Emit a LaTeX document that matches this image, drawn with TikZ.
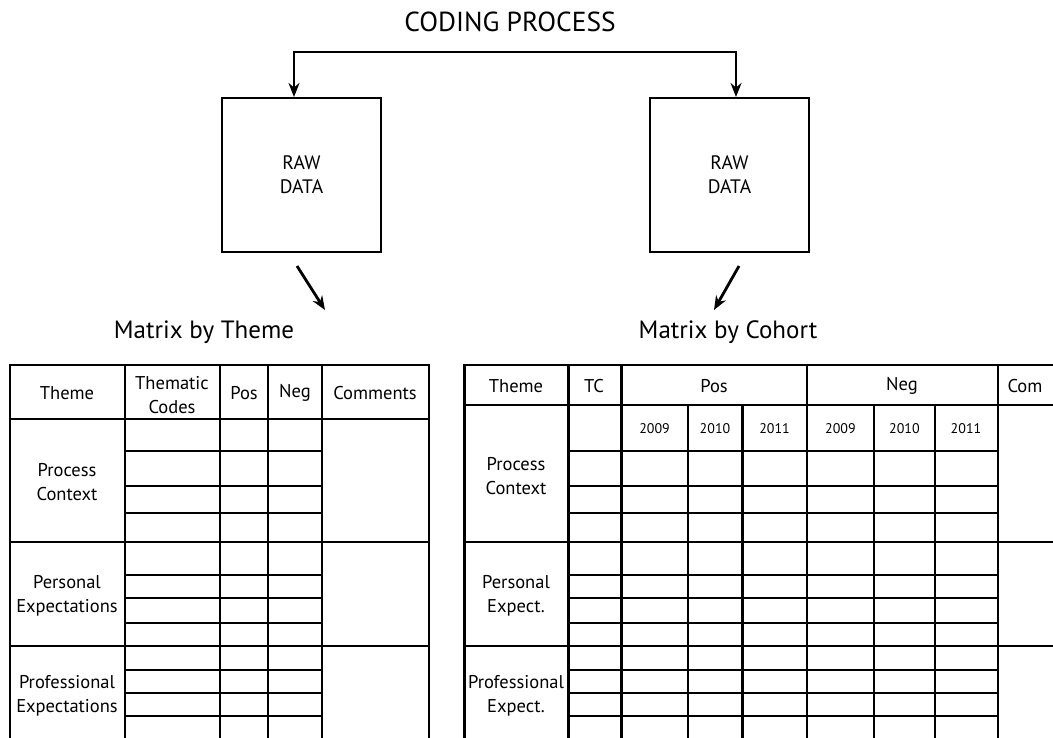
\documentclass[tikz,border=0pt]{standalone}
\usepackage{fontspec}
\setmainfont{PT Sans}
\usetikzlibrary{arrows.meta}

\tikzset{
  >={Stealth[length=14pt,width=11pt]},
  grid line/.style={line width=2.2pt},
  arrow line/.style={line width=2.8pt},
  cell/.style={align=center,font=\fontsize{18.5}{24}\selectfont},
  year/.style={font=\fontsize{14}{16}\selectfont},
  rawbox/.style={draw,line width=2.1pt,minimum width=159pt,minimum height=154pt,
    align=center,font=\fontsize{19.5}{24}\selectfont},
  heading/.style={font=\fontsize{25}{30}\selectfont}
}

\begin{document}
\begin{tikzpicture}[x=1pt,y=-1pt]
                \useasboundingbox (0,0) rectangle (1053,738);
                \clip (0,0) rectangle (1053,738);

                % top: coding process and the two raw data boxes
                \node[heading,font=\fontsize{27.5}{30}\selectfont] (coding) at (510,22) {CODING PROCESS};
                \node[rawbox] (lbox) at (301.5,175) {RAW\\DATA};
                \node[rawbox] (rbox) at (729.5,175) {RAW\\DATA};
                \coordinate (fork) at (515,52);
                \draw[arrow line,<->] ([xshift=-7.5pt]lbox.north) |- (fork) -| ([xshift=6.5pt]rbox.north);
                \coordinate (lfrom) at (297,266);
                \coordinate (lto) at (325,310);
                \coordinate (rfrom) at (739,266);
                \coordinate (rto) at (714,310);
                \draw[arrow line,->] (lfrom) -- (lto);
                \draw[arrow line,->] (rfrom) -- (rto);
                \node[heading] (ltitle) at (204,332) {Matrix by Theme};
                \node[heading] (rtitle) at (728,332) {Matrix by Cohort};

                % left table: matrix by theme
                \draw[grid line] (10,745) -- (10,365) -- (429,365) -- (429,745);
                \draw[grid line] (125,365) -- (125,745) (220,365) -- (220,745)
                    (268,365) -- (268,745) (322,365) -- (322,745);
                \draw[grid line] (10,419) -- (429,419) (10,542) -- (429,542) (10,646) -- (429,646);
                \draw[grid line] (125,451) -- (322,451) (125,486) -- (322,486) (125,513) -- (322,513);
                \draw[grid line] (125,575) -- (322,575) (125,598) -- (322,598) (125,623) -- (322,623);
                \draw[grid line] (125,670) -- (322,670) (125,693) -- (322,693) (125,716) -- (322,716);
                \node[cell] (ltheme) at (67,393) {Theme};
                \node[cell] (lcodes) at (172,395) {Thematic\\Codes};
                \node[cell] (lpos) at (244,393) {Pos};
                \node[cell] (lneg) at (295,393) {Neg};
                \node[cell] (lcomm) at (375,393) {Comments};
                \node[cell] (lproc) at (67,482) {Process\\Context};
                \node[cell] (lpers) at (67,596) {Personal\\Expectations};
                \node[cell] (lprof) at (67,696) {Professional\\Expectations};

                % right table: matrix by cohort
                \draw[grid line] (1060,365) -- (464.5,365) -- (464.5,745);
                \draw[grid line] (568.5,365) -- (568.5,745) (621.5,365) -- (621.5,745)
                    (806.8,365) -- (806.8,745) (997.8,365) -- (997.8,745);
                \draw[grid line] (687.7,405) -- (687.7,745) (742.5,405) -- (742.5,745)
                    (874,405) -- (874,745) (934.7,405) -- (934.7,745);
                \draw[grid line] (464.5,405) -- (1060,405) (464.5,542) -- (1060,542) (464.5,646) -- (1060,646);
                \draw[grid line] (568.5,451) -- (997.8,451) (568.5,486) -- (997.8,486) (568.5,513) -- (997.8,513);
                \draw[grid line] (568.5,575) -- (997.8,575) (568.5,598) -- (997.8,598) (568.5,623) -- (997.8,623);
                \draw[grid line] (568.5,670) -- (997.8,670) (568.5,693) -- (997.8,693) (568.5,716) -- (997.8,716);
                \node[cell] (rtheme) at (516,386) {Theme};
                \node[cell] (rtc) at (594,386) {TC};
                \node[cell] (rpos) at (714,386) {Pos};
                \node[cell] (rneg) at (902,386) {Neg};
                \node[cell,anchor=west] (rcom) at (1004,386) {Com};
                \node[year] (pa) at (654.6,429) {2009};
                \node[year] (pb) at (715,429) {2010};
                \node[year] (pc) at (774.6,429) {2011};
                \node[year] (na) at (840.4,429) {2009};
                \node[year] (nb) at (904.4,429) {2010};
                \node[year] (nc) at (966,429) {2011};
                \node[cell] (rproc) at (516,476) {Process\\Context};
                \node[cell] (rpers) at (516,596) {Personal\\Expect.};
                \node[cell] (rprof) at (516,696) {Professional\\Expect.};
\end{tikzpicture}
\end{document}
